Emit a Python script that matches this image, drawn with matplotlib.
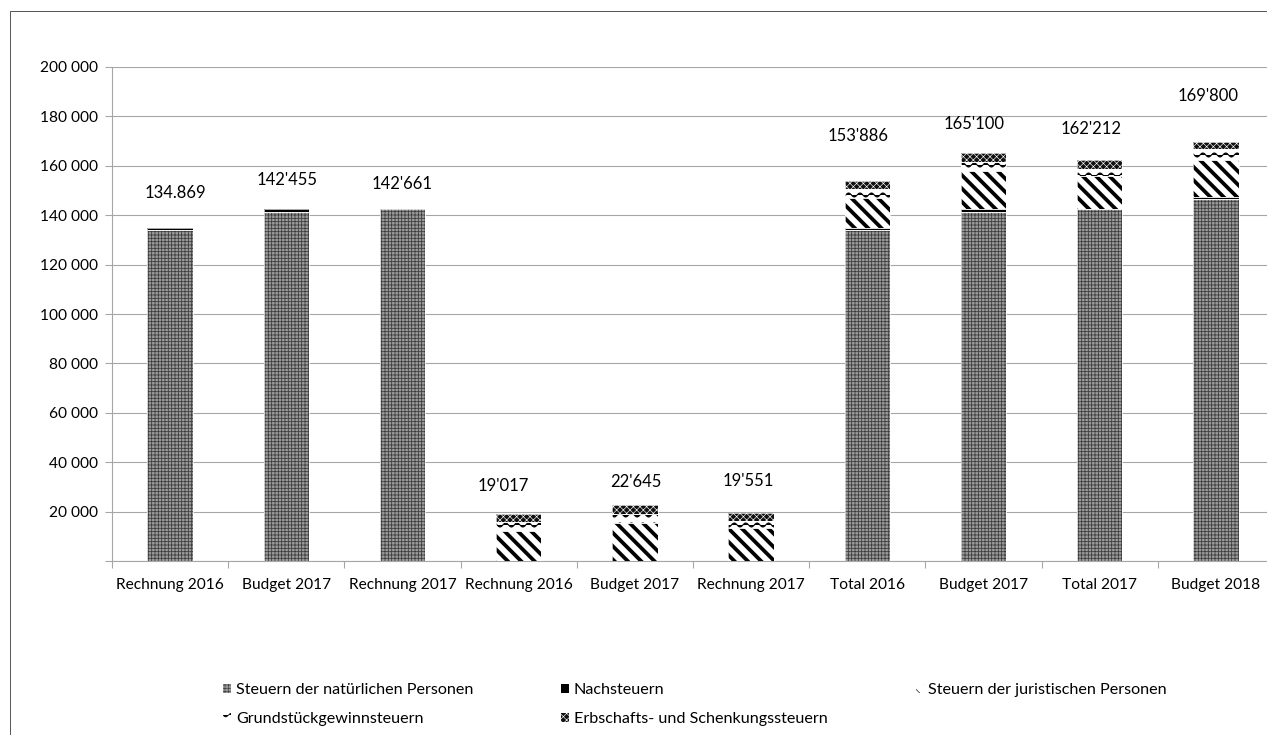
import warnings
import numpy as np
import matplotlib
matplotlib.use("Agg")
import matplotlib.pyplot as plt
import matplotlib.hatch as mhatch
from matplotlib.path import Path
from matplotlib.patches import Rectangle

warnings.filterwarnings("ignore", category=matplotlib.MatplotlibDeprecationWarning)

# ==========================================================
# DATA (in 1000 CHF)
# ==========================================================

categories = ["Rechnung 2016", "Budget 2017", "Rechnung 2017",
              "Rechnung 2016", "Budget 2017", "Rechnung 2017",
              "Total 2016", "Budget 2017", "Total 2017", "Budget 2018"]

natuerliche = [134000, 141455, 142661, 0, 0, 0, 134000, 141455, 142661, 146500]
nachsteuern = [869, 1000, 0, 0, 0, 0, 869, 1000, 0, 1000]
juristische = [0, 0, 0, 12000, 15400, 13400, 12000, 15400, 13400, 15000]
grundstueck = [0, 0, 0, 3800, 3600, 2800, 3800, 3600, 2800, 4300]
erbschaft = [0, 0, 0, 3217, 3645, 3351, 3217, 3645, 3351, 3000]

total_labels = ["134.869", "142'455", "142'661", "19'017", "22'645",
                "19'551", "153'886", "165'100", "162'212", "169'800"]

series_names = ["Steuern der natürlichen Personen", "Nachsteuern",
                "Steuern der juristischen Personen", "Grundstückgewinnsteuern",
                "Erbschafts- und Schenkungssteuern"]

# label nudges in pixels (dx, dy above the bar top)
label_dx = [5, 1, 0, -15, 1, -3, -9, -9, -9, -8]
label_dy = [35, 29, 25, 28, 23, 32, 45, 29, 31, 46]


# ==========================================================
# WAVE HATCH ("~")
# ==========================================================

class WaveHatch(mhatch.HatchPatternBase):
    def __init__(self, hatch, density):
        self.num_rows = hatch.count('~') * 8
        self.steps = 84
        self.num_vertices = self.num_rows * (self.steps + 1)

    def set_vertices_and_codes(self, vertices, codes):
        t = np.linspace(0, 1, self.steps + 1)
        n = self.steps + 1
        for i in range(self.num_rows):
            y0 = (i + 0.5) / self.num_rows
            vertices[i*n:(i+1)*n, 0] = t
            vertices[i*n:(i+1)*n, 1] = y0 + 0.025 * np.sin(2 * np.pi * 7 * t)
            codes[i*n:(i+1)*n] = Path.LINETO
            codes[i*n] = Path.MOVETO


mhatch._hatch_types.append(WaveHatch)

# ==========================================================
# FIGURE
# ==========================================================

plt.rcParams['font.family'] = ['Lato', 'DejaVu Sans']
DPI = 80
fig = plt.figure(figsize=(1267 / DPI, 735 / DPI), dpi=DPI)
fig.patches.append(Rectangle((10 / 1267, -0.2), 1.2, 1.2 - 11 / 735,
                             transform=fig.transFigure, fill=False,
                             edgecolor='#595959', linewidth=0.9))
ax = fig.add_axes([112 / 1267, (735 - 561) / 735, (1274 - 112) / 1267, 494 / 735])

x = np.arange(len(categories))
w = 0.39

styles = [
    dict(color='#9a9a9a', edgecolor='#3c3c3c', hatch='++++', hlw=0.7),
    dict(color='black', edgecolor='black', hatch=None, hlw=0.7),
    dict(color='white', edgecolor='black', hatch='\\\\', hlw=3.4),
    dict(color='white', edgecolor='black', hatch='~', hlw=1.0),
    dict(color='#111111', edgecolor='white', hatch='xxxx', hlw=0.55),
]
values = [natuerliche, nachsteuern, juristische, grundstueck, erbschaft]

bottom = np.zeros(len(categories))
handles = []
for vals, st, name in zip(values, styles, series_names):
    plt.rcParams['hatch.linewidth'] = st['hlw']
    bc = ax.bar(x, vals, w, bottom=bottom, color=st['color'],
                edgecolor=st['edgecolor'], hatch=st['hatch'], linewidth=0,
                label=name, zorder=3)
    handles.append(bc)
    bottom += np.array(vals)

# white separation between segments
b2 = np.zeros(len(categories))
for vals in values:
    v = np.array(vals)
    ax.bar(x[v > 0], v[v > 0], w, bottom=b2[v > 0], fill=False,
           edgecolor='white', linewidth=0.6, zorder=4)
    b2 += v

totals = bottom
for i in range(len(categories)):
    ax.annotate(total_labels[i], (x[i], totals[i]),
                xytext=(label_dx[i], label_dy[i]), textcoords='offset pixels',
                ha='center', va='center', fontsize=15, color='black')

# ==========================================================
# AXES
# ==========================================================

ax.set_xlim(-0.5, 9.5)
ax.set_ylim(0, 200000)
yt = np.arange(0, 200001, 20000)
ax.set_yticks(yt)
ax.set_yticklabels([""] + [f"{v:,}".replace(",", " ") for v in yt[1:]])
ax.grid(axis='y', color='#a6a6a6', linewidth=1.0, zorder=0)

ax.set_xticks(np.arange(-0.5, 10, 1))
ax.set_xticklabels([])
ax.set_xticks(x, minor=True)
ax.set_xticklabels(categories, minor=True)
ax.tick_params(axis='x', which='major', length=6, color='#a6a6a6', width=1)
ax.tick_params(axis='x', which='minor', length=0, pad=15, labelsize=14)
ax.tick_params(axis='y', length=6, color='#a6a6a6', width=1, pad=7, labelsize=14)

for s in ['top', 'right']:
    ax.spines[s].set_visible(False)
for s in ['left', 'bottom']:
    ax.spines[s].set_color('#a6a6a6')
    ax.spines[s].set_linewidth(1.0)

# ==========================================================
# LEGEND (row by row)
# ==========================================================

order = [0, 3, 1, 4, 2]
fig.legend([handles[i] for i in order], [series_names[i] for i in order],
           ncol=3, loc='center left', bbox_to_anchor=(223 / 1267, 1 - 704.5 / 735),
           frameon=False, fontsize=14.5, handlelength=0.5, handleheight=0.5,
           handletextpad=0.3, columnspacing=5.45, labelspacing=0.95,
           borderpad=0, borderaxespad=0)

fig.savefig("out.png", dpi=DPI)
